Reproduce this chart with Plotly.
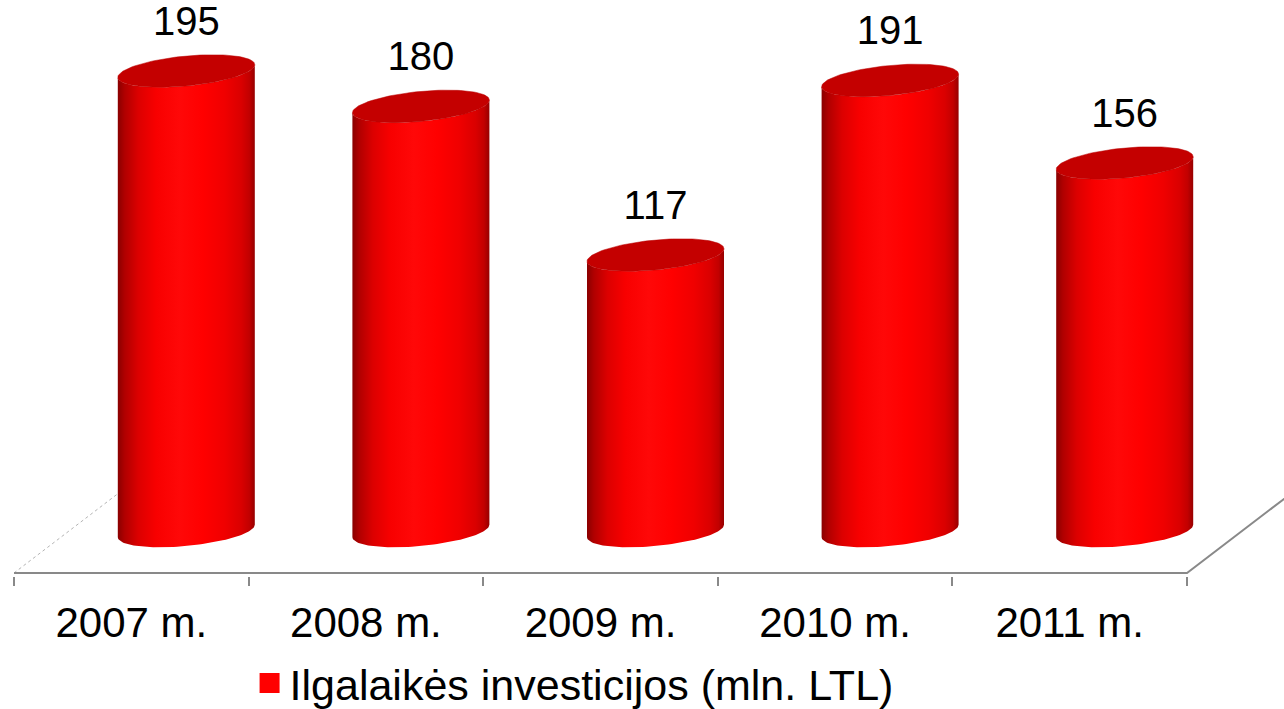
import numpy as np
import plotly.graph_objects as go

# ---- data ----
categories = ["2007 m.", "2008 m.", "2009 m.", "2010 m.", "2011 m."]
values = [195, 180, 117, 191, 156]
series_name = "Ilgalaikės investicijos (mln. LTL)"

# ---- style / geometry constants ----
PX_PER_UNIT_X = 234.6
PX_PER_UNIT_Y = 2.359
DEPTH_SHIFT = 55 / PX_PER_UNIT_X      # bar centre shift (perspective depth), category units
HALF_W = 68.5 / PX_PER_UNIT_X         # cylinder half width
ELL_B = 15.0 / PX_PER_UNIT_Y          # ellipse vertical semi-axis (value units)
ELL_S = 6.3 / PX_PER_UNIT_Y           # ellipse tilt (value units)
FLOOR_HALF = 42.0 / PX_PER_UNIT_Y     # half floor depth (value units)
LABEL_GAP = 46.0 / PX_PER_UNIT_Y
FONT = "Liberation Sans, Arial, sans-serif"
AXIS_GRAY = "#898989"

body_scale = [
    [0.0, "#8a0000"], [0.05, "#b00000"], [0.15, "#dc0000"], [0.28, "#f80000"],
    [0.45, "#ff0808"], [0.62, "#ff0000"], [0.78, "#f00000"], [0.9, "#da0000"],
    [0.96, "#c20000"], [1.0, "#960000"],
]
top_color = "#c40000"

n = len(categories)
xs = np.arange(n)

fig = go.Figure()

# floor (3-D base) drawn from category boundaries
left_b, right_b = -0.5, n - 0.5
fig.add_trace(go.Scatter(
    x=[left_b, left_b + 2 * DEPTH_SHIFT], y=[-FLOOR_HALF, FLOOR_HALF],
    mode="lines", line=dict(color="#b4b4b4", width=1, dash="dot"),
    hoverinfo="skip", showlegend=False))
fig.add_trace(go.Scatter(
    x=[left_b, right_b, right_b + 2 * DEPTH_SHIFT], y=[-FLOOR_HALF, -FLOOR_HALF, FLOOR_HALF],
    mode="lines", line=dict(color=AXIS_GRAY, width=2),
    hoverinfo="skip", showlegend=False))

t_front = np.linspace(np.pi, 2 * np.pi, 60)
t_full = np.linspace(0, 2 * np.pi, 120)

for i, v in enumerate(values):
    c = xs[i] + DEPTH_SHIFT
    top_x = c + HALF_W * np.cos(t_front)
    top_y = v + ELL_B * np.sin(t_front) + ELL_S * np.cos(t_front)
    bot_x = top_x[::-1]
    bot_y = (ELL_B * np.sin(t_front) + ELL_S * np.cos(t_front))[::-1]
    bx = np.concatenate([top_x, bot_x, top_x[:1]])
    by = np.concatenate([top_y, bot_y, [0 - ELL_S]])
    fig.add_trace(go.Scatter(
        x=bx, y=by, mode="lines", fill="toself",
        fillgradient=dict(type="horizontal", colorscale=body_scale),
        line=dict(width=0), hoverinfo="skip", showlegend=False))
    ex = c + HALF_W * np.cos(t_full)
    ey = v + ELL_B * np.sin(t_full) + ELL_S * np.cos(t_full)
    fig.add_trace(go.Scatter(
        x=ex, y=ey, mode="lines", fill="toself", fillcolor=top_color,
        line=dict(width=0.5, color="#b80000"), hoverinfo="skip", showlegend=False))

# value labels
fig.add_trace(go.Scatter(
    x=xs + DEPTH_SHIFT, y=[v + LABEL_GAP for v in values],
    mode="text", text=[str(v) for v in values], textposition="middle center",
    textfont=dict(family=FONT, size=40, color="#000000"),
    hoverinfo="skip", showlegend=False, cliponaxis=False))

# legend entry
fig.add_trace(go.Scatter(
    x=[None], y=[None], mode="markers", name=series_name,
    marker=dict(symbol="square", size=16, color="#ff0000",
                line=dict(color="#ff0000", width=4)),
    showlegend=True))

x_lo = -0.5 - 14 / PX_PER_UNIT_X
x_hi = x_lo + 1284 / PX_PER_UNIT_X
plot_bottom_px = 576
y_lo = (531 - plot_bottom_px) / PX_PER_UNIT_Y
y_hi = 531 / PX_PER_UNIT_Y

fig.update_layout(
    width=1284, height=709,
    margin=dict(l=0, r=0, t=0, b=709 - plot_bottom_px, autoexpand=False),
    paper_bgcolor="white", plot_bgcolor="white",
    hovermode=False,
    font=dict(family=FONT, color="#000000"),
    showlegend=True,
    legend=dict(orientation="h", x=0.4471, xanchor="center", y=-0.1858, yanchor="middle",
                font=dict(family=FONT, size=43, color="#000000"),
                itemsizing="trace", bgcolor="rgba(0,0,0,0)"),
    xaxis=dict(range=[x_lo, x_hi], showgrid=False, zeroline=False, showline=False,
               tickmode="array", tickvals=list(xs), ticktext=categories,
               ticks="", tickfont=dict(family=FONT, size=42, color="#000000"),
               ticklabelstandoff=18,
               minor=dict(tickmode="array", tickvals=[k - 0.5 for k in range(n + 1)],
                          ticks="outside", ticklen=9, tickwidth=2, tickcolor=AXIS_GRAY,
                          showgrid=False),
               fixedrange=True),
    yaxis=dict(range=[y_lo, y_hi], visible=False, fixedrange=True),
)

fig.write_html("out.html", config={"displayModeBar": False, "staticPlot": True},
               post_script="document.body.style.margin='0px';")
